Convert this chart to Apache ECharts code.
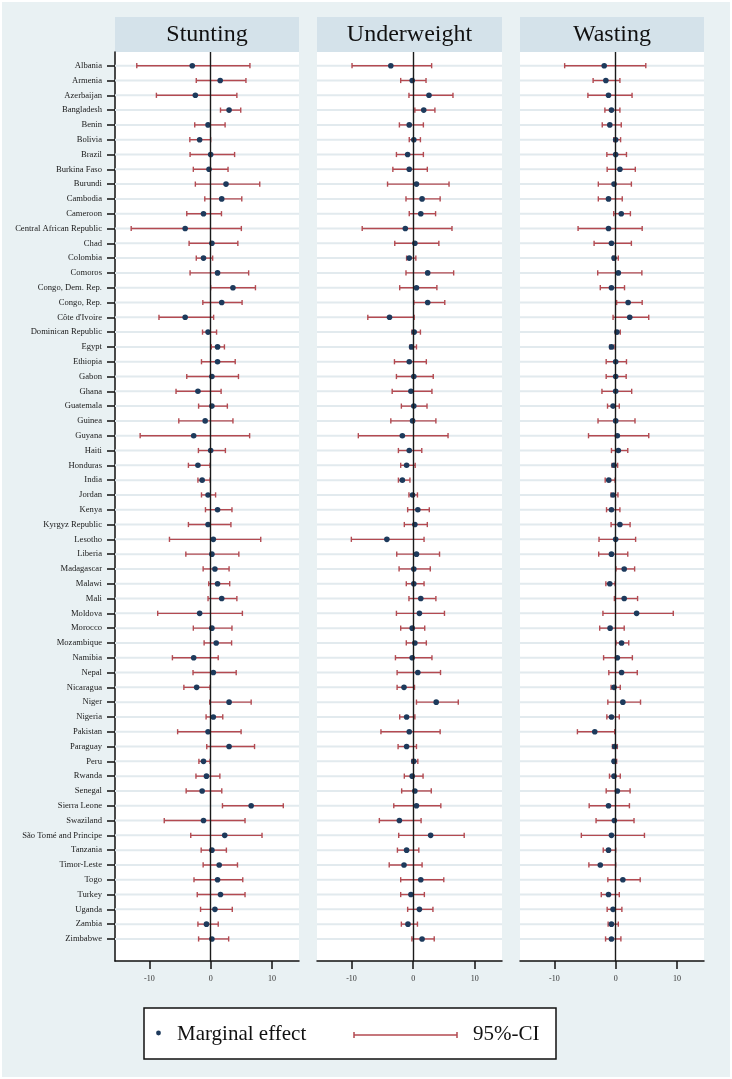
<!DOCTYPE html>
<html>
<head>
<meta charset="utf-8">
<title>Marginal effects by country</title>
<script src="https://cdn.jsdelivr.net/npm/echarts@6.0.0/dist/echarts.min.js"></script>
<style>
	html, body { margin : 0; padding : 0; background : #fff; }
	#main { width : 732px; height : 1079px; }
</style>
</head>
<body>
<div id="main"></div>
<script>
// countries, top to bottom
var countries = ['Albania', 'Armenia', 'Azerbaijan', 'Bangladesh', 'Benin', 'Bolivia', 'Brazil', 'Burkina Faso',
	'Burundi', 'Cambodia', 'Cameroon', 'Central African Republic', 'Chad', 'Colombia', 'Comoros',
	'Congo, Dem. Rep.', 'Congo, Rep.', 'Côte d\'Ivoire', 'Dominican Republic', 'Egypt', 'Ethiopia', 'Gabon',
	'Ghana', 'Guatemala', 'Guinea', 'Guyana', 'Haiti', 'Honduras', 'India', 'Jordan', 'Kenya',
	'Kyrgyz Republic', 'Lesotho', 'Liberia', 'Madagascar', 'Malawi', 'Mali', 'Moldova', 'Morocco',
	'Mozambique', 'Namibia', 'Nepal', 'Nicaragua', 'Niger', 'Nigeria', 'Pakistan', 'Paraguay', 'Peru',
	'Rwanda', 'Senegal', 'Sierra Leone', 'Swaziland', 'São Tomé and Principe', 'Tanzania', 'Timor-Leste',
	'Togo', 'Turkey', 'Uganda', 'Zambia', 'Zimbabwe'];

var panelTitles = ['Stunting', 'Underweight', 'Wasting'];
var xTicks = [-10, 0, 10];

// Stunting
var stuntEst = [-3.0, 1.55, -2.5, 3.0, -0.43, -1.8, 0, -0.27, 2.5, 1.8, -1.17, -4.16, 0.2, -1.17, 1.12, 3.63, 1.8, -4.16,
	-0.43, 1.12, 1.12, 0.2, -2.08, 0.2, -0.9, -2.77, 0, -2.08, -1.39, -0.43, 1.12, -0.43, 0.43, 0.2, 0.69, 1.12, 1.8, -1.8, 0.2,
	0.9, -2.77, 0.43, -2.29, 3.0, 0.43, -0.43, 3.0, -1.17, -0.69, -1.39, 6.6, -1.17, 2.29, 0.2, 1.39, 1.12, 1.6, 0.69, -0.69, 0.2];
var stuntLo = [-12.05, -2.35, -8.85, 1.6, -2.6, -3.4, -3.36, -2.83, -2.5, -0.96, -3.9, -12.96, -3.52, -2.35, -3.36, 0, -1.28, -8.43,
	-1.33, 0.1, -1.5, -3.9, -5.65, -1.97, -5.2, -11.5, -2.0, -3.63, -2.08, -1.5, -0.85, -3.63, -6.72, -4.05, -1.23, -0.32, -0.43, -8.64, -2.83,
	-1.07, -6.24, -2.88, -4.37, -0.16, -0.75, -5.39, -0.64, -1.92, -2.4, -4.0, 1.92, -7.57, -3.25, -1.55, -1.23, -2.72, -2.19, -1.65, -2.08, -1.97];
var stuntHi = [6.4, 5.75, 4.27, 4.9, 2.35, 0, 3.9, 2.83, 8.0, 5.07, 1.76, 5.0, 4.43, 0.32, 6.19, 7.3, 5.12, 0.48,
	0.96, 2.24, 4.0, 4.53, 1.7, 2.72, 3.63, 6.35, 2.4, -0.1, -0.1, 0.8, 3.47, 3.3, 8.16, 4.59, 3.0, 3.1, 4.27, 5.17, 3.47,
	3.41, 1.23, 4.16, -0.1, 6.6, 1.97, 4.96, 7.15, -0.1, 1.5, 1.81, 11.84, 5.6, 8.37, 2.56, 4.37, 5.23, 5.6, 3.52, 1.23, 2.93];

// Underweight
var underEst = [-3.63, -0.16, 2.56, 1.71, -0.64, 0.1, -0.9, -0.64, 0.53, 1.44, 1.23, -1.28, 0.27, -0.64, 2.35, 0.53, 2.35, -3.84,
	0.16, -0.27, -0.64, 0.1, -0.37, 0.1, -0.1, -1.76, -0.64, -1.07, -1.76, -0.1, 0.75, 0.27, -4.27, 0.53, 0.1, 0.1, 1.23, 1.01, -0.16,
	0.27, -0.16, 0.75, -1.49, 3.73, -1.07, -0.64, -1.07, 0.1, -0.16, 0.27, 0.53, -2.24, 2.83, -1.07, -1.49, 1.23, -0.37, 1.01, -0.85, 1.44];
var underLo = [-9.92, -2.03, -0.69, 0.27, -2.24, -0.64, -2.72, -3.3, -4.16, -1.17, -0.64, -8.27, -2.99, -1.07, -1.17, -2.19, 0.1, -7.36,
	-0.21, -0.53, -3.04, -2.72, -3.41, -1.92, -3.63, -8.9, -2.4, -2.03, -2.4, -0.69, -0.9, -1.44, -10.03, -2.67, -2.29, -1.12, -0.69, -2.72, -2.03,
	-1.12, -2.88, -2.61, -2.61, 0.53, -2.19, -5.23, -2.45, -0.21, -1.44, -1.87, -3.15, -5.49, -2.35, -2.56, -3.89, -2.03, -2.03, -0.9, -1.92, -0.21];
var underHi = [2.99, 2.08, 6.45, 3.52, 1.65, 1.17, 1.65, 2.29, 5.81, 4.37, 3.63, 6.29, 4.16, 0.43, 6.56, 3.84, 5.12, 0.16,
	1.17, 0.53, 2.13, 3.25, 3.04, 2.24, 3.68, 5.65, 1.39, 0.32, -0.53, 0.69, 2.61, 2.29, 1.76, 4.27, 2.77, 1.76, 3.68, 5.07, 1.87,
	2.13, 3.04, 4.43, 0.21, 7.31, 0.27, 4.37, 0.53, 0.75, 1.6, 2.93, 4.48, 1.28, 8.27, 0.91, 1.44, 4.96, 1.81, 3.2, 0.69, 3.41];

// Wasting
var wasteEst = [-1.87, -1.6, -1.17, -0.69, -0.96, 0, 0, 0.69, -0.27, -1.17, 0.91, -1.17, -0.69, -0.27, 0.43, -0.69, 2.03, 2.29,
	0.21, -0.69, 0, 0, 0, -0.43, 0, 0.27, 0.43, -0.27, -1.12, -0.43, -0.69, 0.69, 0, -0.69, 1.39, -0.96, 1.39, 3.41, -0.91,
	0.96, 0.27, 0.96, -0.27, 1.17, -0.69, -3.41, -0.16, -0.27, -0.27, 0.27, -1.17, -0.21, -0.69, -1.17, -2.51, 1.17, -1.17, -0.43, -0.69, -0.69];
var wasteLo = [-8.32, -3.68, -4.53, -1.76, -2.19, -0.32, -1.44, -1.39, -2.83, -2.83, -0.32, -6.13, -3.52, -0.48, -2.93, -2.51, 0.16, -0.43,
	-0.05, -0.96, -1.55, -1.55, -2.24, -1.33, -2.88, -4.43, -0.69, -0.59, -1.71, -0.75, -1.49, -0.75, -2.72, -2.77, 0.05, -1.6, -0.21, -2.08, -2.61,
	0.05, -1.97, -1.12, -0.75, -1.28, -1.44, -6.24, -0.53, -0.48, -1.01, -1.55, -4.32, -3.2, -5.6, -2.03, -4.37, -1.28, -2.35, -1.39, -1.23, -1.65];
var wasteHi = [4.91, 0.69, 2.67, 0.69, 0.91, 0.8, 1.76, 3.2, 2.56, 1.07, 2.4, 4.32, 2.56, 0.43, 4.27, 1.44, 4.32, 5.39,
	0.75, -0.27, 1.76, 1.71, 2.61, 0.59, 3.15, 5.39, 1.97, 0.32, -0.1, 0.37, 0.69, 2.35, 3.25, 1.97, 3.09, -0.1, 3.57, 9.39, 1.39,
	2.13, 2.72, 3.52, 0.75, 4.05, 0.59, -0.16, 0.27, 0.16, 0.75, 2.35, 2.24, 2.99, 4.69, 0, 0, 4.0, 0.59, 1.01, 0.43, 0.85];

var panels = [
	{ est : stuntEst, lo : stuntLo, hi : stuntHi },
	{ est : underEst, lo : underLo, hi : underHi },
	{ est : wasteEst, lo : wasteLo, hi : wasteHi }
];

var serif = '"Liberation Serif", "DejaVu Serif", serif';
var ciColor = '#b34a51';
var dotColor = '#1d3a5c';
var gridColor = '#e2eaee';
var bgColor = '#e9f1f3';
var headColor = '#d4e2ea';

var rowIdx = countries.map(function(c, i) { return i; });
var panelLeft = [115, 317, 520];
var panelWidth = [184, 185, 184];

// error bar + row grid line
function renderCI(params, api) {
	var y = api.value(2);
	var a = api.coord([api.value(0), y]);
	var b = api.coord([api.value(1), y]);
	var cs = params.coordSys;
	var h = 2.6;
	var st = { stroke : ciColor, lineWidth : 1.4 };
	return {
		type : 'group',
		children : [
			{ type : 'line', shape : { x1 : cs.x, y1 : a[1], x2 : cs.x + cs.width, y2 : a[1] }, style : { stroke : gridColor, lineWidth : 2 } },
			{ type : 'line', shape : { x1 : a[0], y1 : a[1], x2 : b[0], y2 : b[1] }, style : st },
			{ type : 'line', shape : { x1 : a[0], y1 : a[1] - h, x2 : a[0], y2 : a[1] + h }, style : st },
			{ type : 'line', shape : { x1 : b[0], y1 : b[1] - h, x2 : b[0], y2 : b[1] + h }, style : st }
		]
	};
}

var grids = [], xAxes = [], yAxes = [], series = [], graphics = [];

panels.forEach(function(p, k) {
	grids.push({
		left : panelLeft[k],
		width : panelWidth[k],
		top : 52,
		height : 909,
		show : true,
		backgroundColor : '#fff',
		borderWidth : 0
	});
	xAxes.push({
		gridIndex : k,
		type : 'value',
		min : -15.6,
		max : 14.4,
		axisLine : { show : true, onZero : false, lineStyle : { color : '#111', width : 1.5 } },
		axisTick : { show : true, length : 8, customValues : xTicks, lineStyle : { color : '#111', width : 1.5 } },
		axisLabel : { customValues : xTicks, fontSize : 8, fontFamily : serif, color : '#333', margin : 14 },
		splitLine : { show : false }
	});
	yAxes.push({
		gridIndex : k,
		type : 'value',
		inverse : true,
		min : -0.926,
		max : 60.49,
		axisLine : { show : k == 0, onZero : false, lineStyle : { color : '#111', width : 1.5 } },
		axisTick : { show : k == 0, length : 8, customValues : rowIdx, lineStyle : { color : '#111', width : 1.5 } },
		axisLabel : {
			show : k == 0,
			customValues : rowIdx,
			fontSize : 8.6,
			fontFamily : serif,
			color : '#1a1a1a',
			margin : 13,
			formatter : function(v) { return countries[Math.round(v)] || ''; }
		},
		splitLine : { show : false }
	});

	series.push({
		type : 'custom',
		xAxisIndex : k,
		yAxisIndex : k,
		z : 2,
		clip : false,
		silent : true,
		renderItem : renderCI,
		encode : { x : [0, 1], y : 2 },
		data : p.lo.map(function(v, i) { return [v, p.hi[i], i]; }),
		markLine : {
			silent : true,
			symbol : ['none', 'none'],
			label : { show : false },
			lineStyle : { color : '#1a1a1a', width : 1.4, type : 'solid' },
			data : [{ xAxis : 0 }]
		}
	});
	series.push({
		type : 'scatter',
		xAxisIndex : k,
		yAxisIndex : k,
		z : 3,
		symbolSize : 5.6,
		itemStyle : { color : dotColor, opacity : 1 },
		data : p.est.map(function(v, i) { return [v, i]; })
	});

	graphics.push({
		type : 'rect',
		shape : { x : panelLeft[k], y : 17, width : panelWidth[k], height : 35 },
		style : { fill : headColor }
	});
	graphics.push({
		type : 'text',
		x : panelLeft[k] + panelWidth[k] / 2,
		y : 35,
		style : { text : panelTitles[k], font : '24px ' + serif, fill : '#111', textAlign : 'center', textVerticalAlign : 'middle' }
	});
});

// legend box
graphics.push({
	type : 'rect',
	shape : { x : 144, y : 1008, width : 412, height : 51 },
	style : { fill : '#fff', stroke : '#111', lineWidth : 1.5 }
});
graphics.push({ type : 'circle', shape : { cx : 158.5, cy : 1033, r : 2.4 }, style : { fill : dotColor } });
graphics.push({
	type : 'text', x : 177, y : 1034,
	style : { text : 'Marginal effect', font : '21px ' + serif, fill : '#111', textVerticalAlign : 'middle' }
});
graphics.push({ type : 'line', shape : { x1 : 354, y1 : 1035, x2 : 457, y2 : 1035 }, style : { stroke : ciColor, lineWidth : 1.5 } });
graphics.push({ type : 'line', shape : { x1 : 354, y1 : 1032, x2 : 354, y2 : 1038 }, style : { stroke : ciColor, lineWidth : 1.5 } });
graphics.push({ type : 'line', shape : { x1 : 457, y1 : 1032, x2 : 457, y2 : 1038 }, style : { stroke : ciColor, lineWidth : 1.5 } });
graphics.push({
	type : 'text', x : 473, y : 1034,
	style : { text : '95%-CI', font : '21px ' + serif, fill : '#111', textVerticalAlign : 'middle' }
});
// thin white frame round the picture
graphics.push({
	type : 'rect', z : 100,
	shape : { x : 0, y : 0, width : 732, height : 1079 },
	style : { fill : 'none', stroke : '#fff', lineWidth : 4 }
});

var myChart = echarts.init(document.getElementById('main'));
myChart.setOption({
	animation : false,
	backgroundColor : bgColor,
	grid : grids,
	xAxis : xAxes,
	yAxis : yAxes,
	series : series,
	graphic : graphics
});
</script>
</body>
</html>
